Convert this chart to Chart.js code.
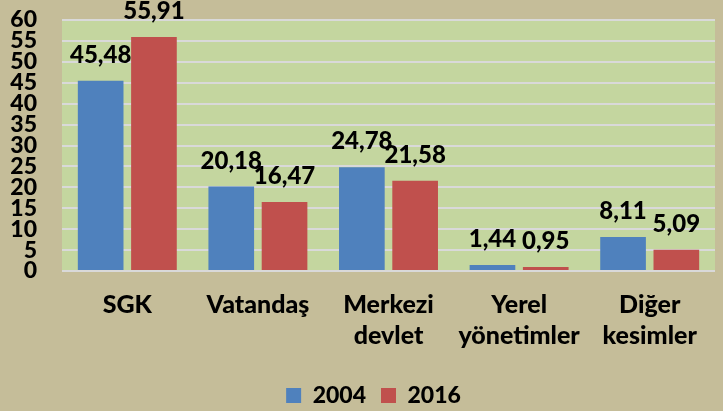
<!DOCTYPE html>
<html>
<head>
<meta charset="utf-8">
<script src="https://cdn.jsdelivr.net/npm/chart.js@4/dist/chart.umd.min.js"></script>
<style>
  html, body { margin: 0; padding: 0; background: #c5bd99; }
  #wrap { width: 723px; height: 411px; }
</style>
</head>
<body>
<div id="wrap"><canvas id="chart"></canvas></div>
<script>
var categories = [['SGK'], ['Vatandaş'], ['Merkezi', 'devlet'], ['Yerel', 'yönetimler'], ['Diğer', 'kesimler']];
var values2004 = [45.48, 20.18, 24.78, 1.44, 8.11];
var values2016 = [55.91, 16.47, 21.58, 0.95, 5.09];
var seriesNames = ['2004', '2016'];

var FONT = 'Lato';

// green plot background
var plotBg = {
    id: 'plotBg',
    beforeDraw: function (chart) {
        var a = chart.chartArea, ctx = chart.ctx;
        ctx.save();
        ctx.fillStyle = '#c4d69f';
        ctx.fillRect(a.left, a.top - 1, a.right - a.left, a.bottom - a.top + 2);
        ctx.restore();
    }
};

// value labels above the bars, with comma decimals
var valueLabels = {
    id: 'valueLabels',
    afterDatasetsDraw: function (chart) {
        var ctx = chart.ctx;
        ctx.save();
        ctx.font = '900 24px ' + FONT;
        ctx.fillStyle = '#000';
        ctx.textAlign = 'center';
        ctx.textBaseline = 'alphabetic';
        chart.data.datasets.forEach(function (ds, i) {
            chart.getDatasetMeta(i).data.forEach(function (bar, j) {
                ctx.fillText(ds.data[j].toFixed(2).replace('.', ','), bar.x, bar.y - 18);
            });
        });
        ctx.restore();
    }
};

// legend sits a little right of centre in the original
var legendShift = {
    id: 'legendShift',
    afterLayout: function (chart) {
        chart.legend.left += 16;
        chart.legend.right += 16;
    }
};

var ctx = document.getElementById('chart').getContext('2d');
new Chart(ctx, {
    type: 'bar',
    data: {
        labels: categories,
        datasets: [{
            label: seriesNames[0],
            data: values2004,
            backgroundColor: '#4f81bd'
        }, {
            label: seriesNames[1],
            data: values2016,
            backgroundColor: '#c0504d'
        }]
    },
    options: {
        responsive: true,
        maintainAspectRatio: false,
        animation: false,
        datasets: {
            bar: { categoryPercentage: 0.816, barPercentage: 0.857 }
        },
        layout: { padding: { top: 20, right: 8, left: 0, bottom: -6 } },
        scales: {
            x: {
                afterFit: function (s) { s.height += 8; },
                grid: { display: false },
                border: { display: false },
                ticks: {
                    color: '#000',
                    font: { family: FONT, size: 25, weight: 900, lineHeight: 1.24 },
                    padding: 10,
                    maxRotation: 0,
                    autoSkip: false
                }
            },
            y: {
                min: 0,
                max: 60,
                afterFit: function (s) { s.width = 62; s.paddingTop = 0; s.paddingBottom = 0; },
                grid: { color: '#d9d9d9', lineWidth: 2, drawTicks: false },
                border: { display: false },
                ticks: {
                    stepSize: 5,
                    autoSkip: false,
                    color: '#000',
                    padding: 25,
                    font: { family: FONT, size: 23, weight: 900, lineHeight: 0.9 }
                }
            }
        },
        plugins: {
            legend: {
                position: 'bottom',
                labels: {
                    color: '#000',
                    boxWidth: 15,
                    boxHeight: 15,
                    padding: 15,
                    font: { family: FONT, size: 23, weight: 900 }
                }
            },
            tooltip: { enabled: false }
        }
    },
    plugins: [plotBg, valueLabels, legendShift]
});
</script>
</body>
</html>
